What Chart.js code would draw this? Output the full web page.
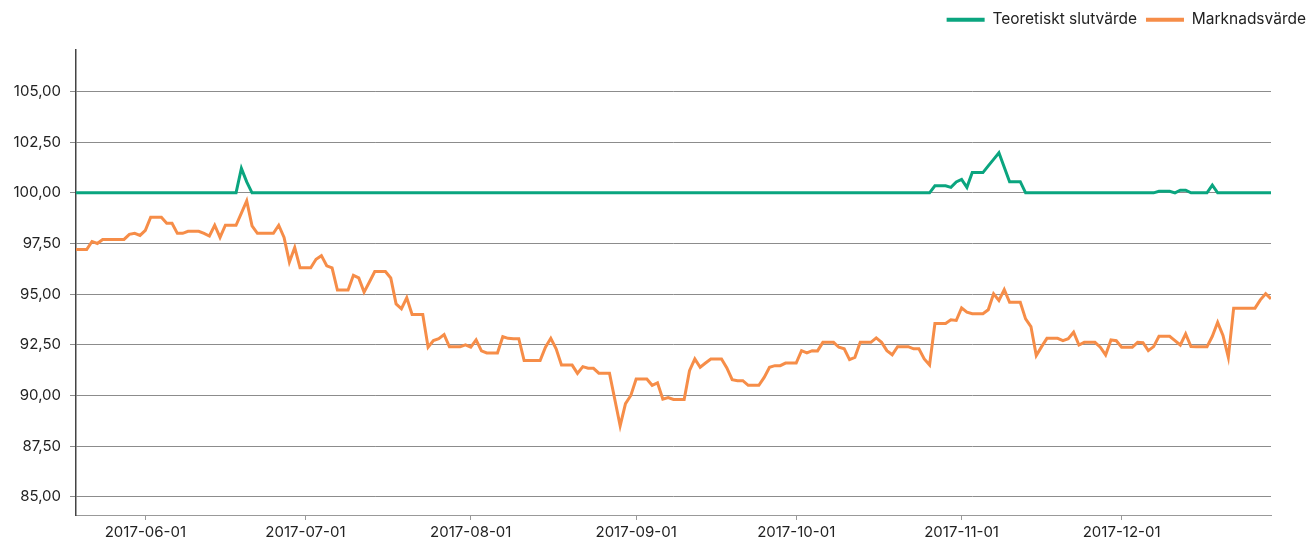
<!DOCTYPE html>
<html>
<head>
<meta charset="utf-8">
<script src="https://cdn.jsdelivr.net/npm/chart.js@4"></script>
<style>
  html, body { margin: 0; padding: 0; background: #fff; }
  #wrap { width: 1315px; height: 544px; }
</style>
</head>
<body>
<div id="wrap"><canvas id="chart"></canvas></div>
<script>
// Dagliga värden, första dagen 2017-05-19 (fredag), sista 2017-12-29
var startDate = '2017-05-19'
var tickLabels = ['2017-06-01', '2017-07-01', '2017-08-01', '2017-09-01', '2017-10-01', '2017-11-01', '2017-12-01']
var yTicks = [85, 87.5, 90, 92.5, 95, 97.5, 100, 102.5, 105]

// Marknadsvärde (en rad = fre..tor)
var marknadsvarde = [
  97.2, 97.2, 97.2, 97.6, 97.5, 97.7, 97.7,
  97.7, 97.7, 97.7, 97.95, 98.0, 97.9, 98.15,
  98.8, 98.8, 98.8, 98.5, 98.5, 98.0, 98.0,
  98.1, 98.1, 98.1, 98.0, 97.87, 98.4, 97.8,
  98.4, 98.4, 98.4, 99.0, 99.6, 98.37, 98.0,
  98.0, 98.0, 98.0, 98.4, 97.8, 96.58, 97.3,
  96.3, 96.3, 96.3, 96.72, 96.9, 96.4, 96.3,
  95.2, 95.2, 95.2, 95.93, 95.8, 95.1, 95.6,
  96.12, 96.12, 96.12, 95.8, 94.52, 94.28, 94.82,
  94.0, 94.0, 94.0, 92.38, 92.71, 92.8, 93.0,
  92.4, 92.4, 92.4, 92.5, 92.38, 92.74, 92.2,
  92.1, 92.1, 92.1, 92.9, 92.82, 92.8, 92.8,
  91.72, 91.72, 91.72, 91.72, 92.38, 92.82, 92.3,
  91.5, 91.5, 91.5, 91.09, 91.42, 91.34, 91.34,
  91.1, 91.1, 91.1, 89.8, 88.5, 89.6, 90.0,
  90.81, 90.81, 90.81, 90.5, 90.62, 89.82, 89.9,
  89.8, 89.8, 89.8, 91.22, 91.8, 91.39, 91.6,
  91.8, 91.8, 91.8, 91.36, 90.78, 90.73, 90.73,
  90.5, 90.5, 90.5, 90.89, 91.39, 91.47, 91.47,
  91.6, 91.6, 91.6, 92.21, 92.1, 92.21, 92.2,
  92.62, 92.62, 92.62, 92.38, 92.3, 91.77, 91.88,
  92.62, 92.62, 92.62, 92.84, 92.62, 92.21, 92.01,
  92.41, 92.41, 92.41, 92.3, 92.3, 91.8, 91.5,
  93.55, 93.55, 93.55, 93.73, 93.7, 94.32, 94.11,
  94.03, 94.03, 94.03, 94.23, 95.02, 94.69, 95.22,
  94.6, 94.6, 94.6, 93.78, 93.4, 91.97, 92.41,
  92.82, 92.82, 92.82, 92.71, 92.8, 93.12, 92.49,
  92.62, 92.62, 92.62, 92.38, 92.0, 92.74, 92.7,
  92.38, 92.38, 92.38, 92.62, 92.6, 92.21, 92.41,
  92.92, 92.92, 92.92, 92.71, 92.49, 93.04, 92.41,
  92.4, 92.4, 92.4, 92.92, 93.61, 92.96, 91.88,
  94.31, 94.31, 94.31, 94.31, 94.31, 94.72, 95.02,
  94.77
]

// Teoretiskt slutvärde
var teoretisktSlutvarde = [
  100, 100, 100, 100, 100, 100, 100,
  100, 100, 100, 100, 100, 100, 100,
  100, 100, 100, 100, 100, 100, 100,
  100, 100, 100, 100, 100, 100, 100,
  100, 100, 100, 101.21, 100.54, 100, 100,
  100, 100, 100, 100, 100, 100, 100,
  100, 100, 100, 100, 100, 100, 100,
  100, 100, 100, 100, 100, 100, 100,
  100, 100, 100, 100, 100, 100, 100,
  100, 100, 100, 100, 100, 100, 100,
  100, 100, 100, 100, 100, 100, 100,
  100, 100, 100, 100, 100, 100, 100,
  100, 100, 100, 100, 100, 100, 100,
  100, 100, 100, 100, 100, 100, 100,
  100, 100, 100, 100, 100, 100, 100,
  100, 100, 100, 100, 100, 100, 100,
  100, 100, 100, 100, 100, 100, 100,
  100, 100, 100, 100, 100, 100, 100,
  100, 100, 100, 100, 100, 100, 100,
  100, 100, 100, 100, 100, 100, 100,
  100, 100, 100, 100, 100, 100, 100,
  100, 100, 100, 100, 100, 100, 100,
  100, 100, 100, 100, 100, 100, 100,
  100.35, 100.35, 100.35, 100.27, 100.54, 100.66, 100.27,
  101.0, 101.0, 101.0, 101.33, 101.65, 101.98, 101.26,
  100.55, 100.55, 100.55, 100, 100, 100, 100,
  100, 100, 100, 100, 100, 100, 100,
  100, 100, 100, 100, 100, 100, 100,
  100, 100, 100, 100, 100, 100, 100,
  100.08, 100.08, 100.08, 100, 100.13, 100.13, 100,
  100, 100, 100, 100.38, 100, 100, 100,
  100, 100, 100, 100, 100, 100, 100,
  100
]

function dagNr(d){
    return Math.round((Date.parse(d) - Date.parse(startDate)) / 86400000)
}
function tillPunkter(values){
    var pts = []
    for (var i = 0; i < values.length; i++){
        pts.push({x: i, y: values[i]})
    }
    return pts
}

var GREEN = '#0aa57f'
var ORANGE = '#f68d48'
var TEXT = '#222'
var FONT = 'Inter, "Noto Sans", sans-serif'

// legend höjd = plats ovanför diagrammet
const legendHojd = {
    id: 'legendHojd',
    beforeInit(chart){
        const fit = chart.legend.fit
        chart.legend.fit = function(){
            fit.bind(chart.legend)()
            this.height = 47
        }
    }
}

const config = {
    type: 'line',
    data: {
        datasets: [{
            label: 'Teoretiskt slutvärde',
            data: tillPunkter(teoretisktSlutvarde),
            borderColor: GREEN,
            backgroundColor: GREEN,
            borderWidth: 3,
            pointRadius: 0,
            tension: 0
        }, {
            label: 'Marknadsvärde',
            data: tillPunkter(marknadsvarde),
            borderColor: ORANGE,
            backgroundColor: ORANGE,
            borderWidth: 3,
            pointRadius: 0,
            tension: 0
        }]
    },
    options: {
        responsive: true,
        maintainAspectRatio: false,
        animation: false,
        layout: { padding: { top: 3, left: 0, bottom: 0 } },
        plugins: {
            tooltip: { enabled: false },
            legend: {
                position: 'top',
                align: 'end',
                labels: {
                    boxWidth: 38,
                    boxHeight: 4,
                    padding: 9,
                    color: TEXT,
                    font: { family: FONT, size: 15.5 },
                    generateLabels(chart){
                        var items = Chart.defaults.plugins.legend.labels.generateLabels(chart)
                        items.forEach(function(it){ it.lineWidth = 0; it.fillStyle = it.strokeStyle })
                        return items
                    }
                }
            }
        },
        scales: {
            x: {
                type: 'linear',
                min: 0,
                max: marknadsvarde.length - 1,
                afterBuildTicks(scale){
                    scale.ticks = tickLabels.map(function(d){ return {value: dagNr(d)} })
                },
                afterFit(scale){ scale.height = 29 },
                grid: { display: true, drawOnChartArea: false, drawTicks: true, tickLength: 5, color: '#999' },
                border: { display: true, color: '#999', width: 1 },
                ticks: {
                    autoSkip: false,
                    maxRotation: 0,
                    padding: 3,
                    color: TEXT,
                    font: { family: FONT, size: 15 },
                    callback: function(value, index){ return tickLabels[index] }
                }
            },
            y: {
                min: 84.1,
                max: 107.05,
                afterBuildTicks(scale){
                    scale.ticks = yTicks.map(function(v){ return {value: v} })
                },
                afterFit(scale){ scale.width = 76 },
                grid: { color: '#8c8c8c', lineWidth: 1, drawTicks: true, tickLength: 6 },
                border: { display: true, color: '#444', width: 1.5 },
                ticks: {
                    padding: 9,
                    color: TEXT,
                    font: { family: FONT, size: 15 },
                    callback: function(v){ return v.toFixed(2).replace('.', ',') }
                }
            },
            hoger: {
                position: 'right',
                display: true,
                grid: { display: false },
                border: { display: false },
                ticks: { display: false },
                afterFit(scale){ scale.width = 44 }
            }
        }
    },
    plugins: [legendHojd]
}

window.onload = function(){
    var ctx = document.getElementById('chart').getContext('2d')
    new Chart(ctx, config)
}
</script>
</body>
</html>
